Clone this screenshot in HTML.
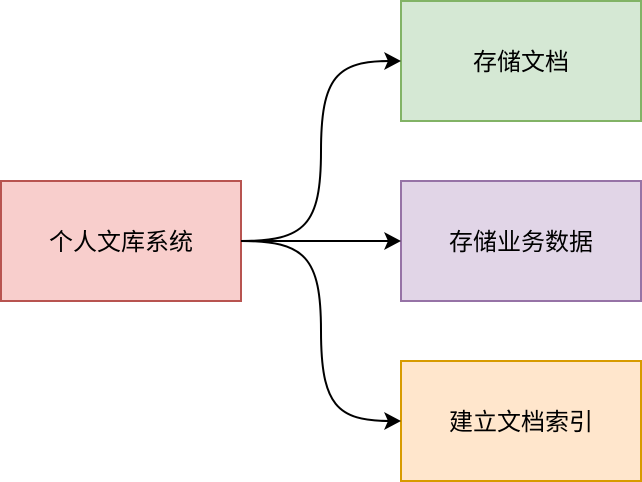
<!DOCTYPE html>
<html><head><meta charset="utf-8"><style>
html,body{margin:0;padding:0;background:#fff;}
svg{display:block;}
text{font-family:"Liberation Sans","Noto Sans CJK SC",sans-serif;font-size:24px;fill:#000;}
</style></head><body>
<svg width="642" height="482" viewBox="0 0 642 482" xmlns="http://www.w3.org/2000/svg">
<rect x="1" y="181" width="240" height="120" fill="#f8cecc" stroke="#b85450" stroke-width="2"/>
<rect x="401" y="1" width="240" height="120" fill="#d5e8d4" stroke="#82b366" stroke-width="2"/>
<rect x="401" y="181" width="240" height="120" fill="#e1d5e7" stroke="#9673a6" stroke-width="2"/>
<rect x="401" y="361" width="240" height="120" fill="#ffe6cc" stroke="#d79b00" stroke-width="2"/>
<g fill="none" stroke="#000" stroke-width="2">
<path d="M241 241 C305 241 321 225 321 151 C321 77 337 61 390 61"/>
<path d="M241 241 L390 241"/>
<path d="M241 241 C305 241 321 257 321 331 C321 405 337 421 390 421"/>
</g>
<g fill="#000">
<path d="M401 61 L384 52 L388 61 L384 70 Z"/>
<path d="M401 241 L384 232 L388 241 L384 250 Z"/>
<path d="M401 421 L384 412 L388 421 L384 430 Z"/>
</g>
<text x="121" y="250" text-anchor="middle">个人文库系统</text>
<text x="521" y="70" text-anchor="middle">存储文档</text>
<text x="521" y="250" text-anchor="middle">存储业务数据</text>
<text x="521" y="430" text-anchor="middle">建立文档索引</text>
</svg>
</body></html>
